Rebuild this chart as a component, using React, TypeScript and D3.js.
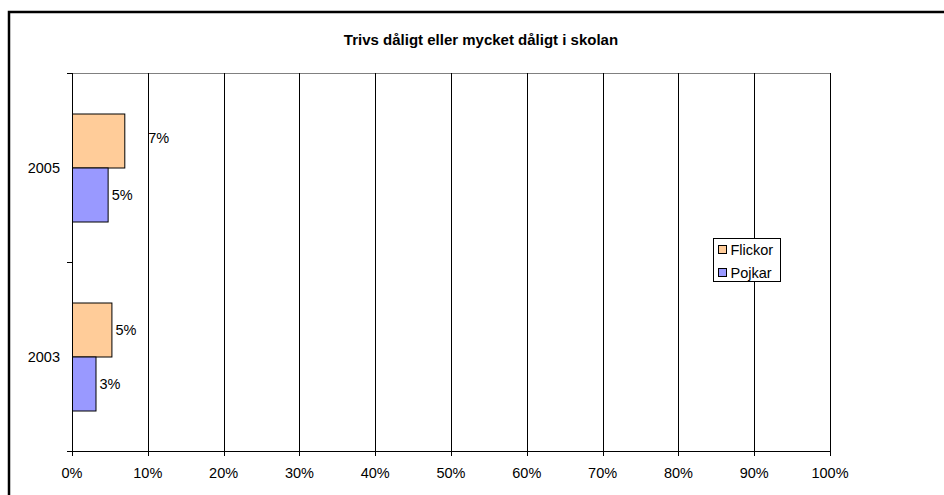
import * as d3 from 'd3';
import React from 'react';

const years = ['2005', '2003'];
const seriesNames = ['Flickor', 'Pojkar'];
const flickor = [0.069, 0.052];
const pojkar = [0.047, 0.031];
const labels = [['7%', '5%'], ['5%', '3%']];
const xTicks = [0, 0.1, 0.2, 0.3, 0.4, 0.5, 0.6, 0.7, 0.8, 0.9, 1];
const colors = ['#FFCC99', '#9999FF'];

const font = 'Liberation Sans, Arial, sans-serif';
const fs = 14.5;

const App: React.FC = () => {
  const width = 944;
  const height = 495;
  const margin = { top: 73, right: 114, bottom: 44, left: 72 };

  const x = d3.scaleLinear().domain([0, 1]).range([margin.left, width - margin.right]);
  const y = d3.scaleBand<string>().domain(years).range([margin.top, height - margin.bottom]);
  const inner = d3.scaleBand<string>().domain(seriesNames).range([0, y.bandwidth()]).paddingOuter(0.75);

  const values = [flickor, pojkar];
  const plotBottom = height - margin.bottom;

  return (
    <svg width={width} height={height} style={{ position: 'absolute', left: 0, top: 0 }} fontFamily={font}>
      <rect x={0} y={0} width={width} height={height} fill="#fff" />
      <rect x={9} y={12} width={width + 20} height={height + 20} fill="none" stroke="#000" strokeWidth={2.5} />
      <text x={481} y={45} textAnchor="middle" fontSize={15} fontWeight="bold">
        Trivs dåligt eller mycket dåligt i skolan
      </text>

      {/* plot top border */}
      <line x1={x(0)} x2={x(1)} y1={margin.top + 0.5} y2={margin.top + 0.5} stroke="#808080" />

      {/* gridlines */}
      {xTicks.slice(1).map(t => (
        <line key={t} x1={Math.round(x(t)) + 0.5} x2={Math.round(x(t)) + 0.5} y1={margin.top} y2={plotBottom} stroke="#000" />
      ))}

      {/* bars */}
      {years.map((yr, i) =>
        seriesNames.map((s, j) => {
          const y0 = y(yr)! + inner(s)!;
          const v = values[j][i];
          return (
            <rect key={yr + s} x={x(0) + 0.5} y={y0 + 0.5} width={x(v) - x(0)} height={inner.bandwidth()}
              fill={colors[j]} stroke="#000" strokeWidth={1} />
          );
        })
      )}

      {/* data labels */}
      {years.map((yr, i) =>
        seriesNames.map((s, j) => {
          const v = values[j][i];
          const nudge = i === 0 && j === 0 ? { dx: 24, dy: -3 } : { dx: 4, dy: 0 };
          return (
            <text key={'l' + yr + s} x={x(v) + nudge.dx} y={y(yr)! + inner(s)! + inner.bandwidth() / 2 + nudge.dy}
              dy="0.35em" fontSize={fs}>
              {labels[i][j]}
            </text>
          );
        })
      )}

      {/* y axis */}
      <line x1={x(0) + 0.5} x2={x(0) + 0.5} y1={margin.top} y2={plotBottom} stroke="#000" />
      {[...years.map(yr => y(yr)!), plotBottom].map(v => (
        <line key={'yt' + v} x1={x(0) - 5} x2={x(0)} y1={Math.round(v) + 0.5} y2={Math.round(v) + 0.5} stroke="#000" />
      ))}
      {years.map(yr => (
        <text key={'yl' + yr} x={60} y={y(yr)! + y.bandwidth() / 2} dy="0.35em" textAnchor="end" fontSize={fs}>
          {yr}
        </text>
      ))}

      {/* x axis */}
      <line x1={x(0)} x2={x(1) + 1} y1={plotBottom + 0.5} y2={plotBottom + 0.5} stroke="#000" />
      {xTicks.map(t => (
        <g key={'xt' + t}>
          <line x1={Math.round(x(t)) + 0.5} x2={Math.round(x(t)) + 0.5} y1={plotBottom} y2={plotBottom + 5} stroke="#000" />
          <text x={x(t)} y={478} textAnchor="middle" fontSize={fs}>
            {d3.format('.0%')(t)}
          </text>
        </g>
      ))}

      {/* legend */}
      <rect x={713.5} y={238.5} width={67} height={43} fill="#fff" stroke="#000" />
      {seriesNames.map((s, j) => (
        <g key={'lg' + s}>
          <rect x={718.5} y={245.5 + j * 23} width={8} height={8} fill={colors[j]} stroke="#000" />
          <text x={730.5} y={249.5 + j * 23} dy="0.35em" fontSize={fs}>{s}</text>
        </g>
      ))}
    </svg>
  );
};

export default App;
